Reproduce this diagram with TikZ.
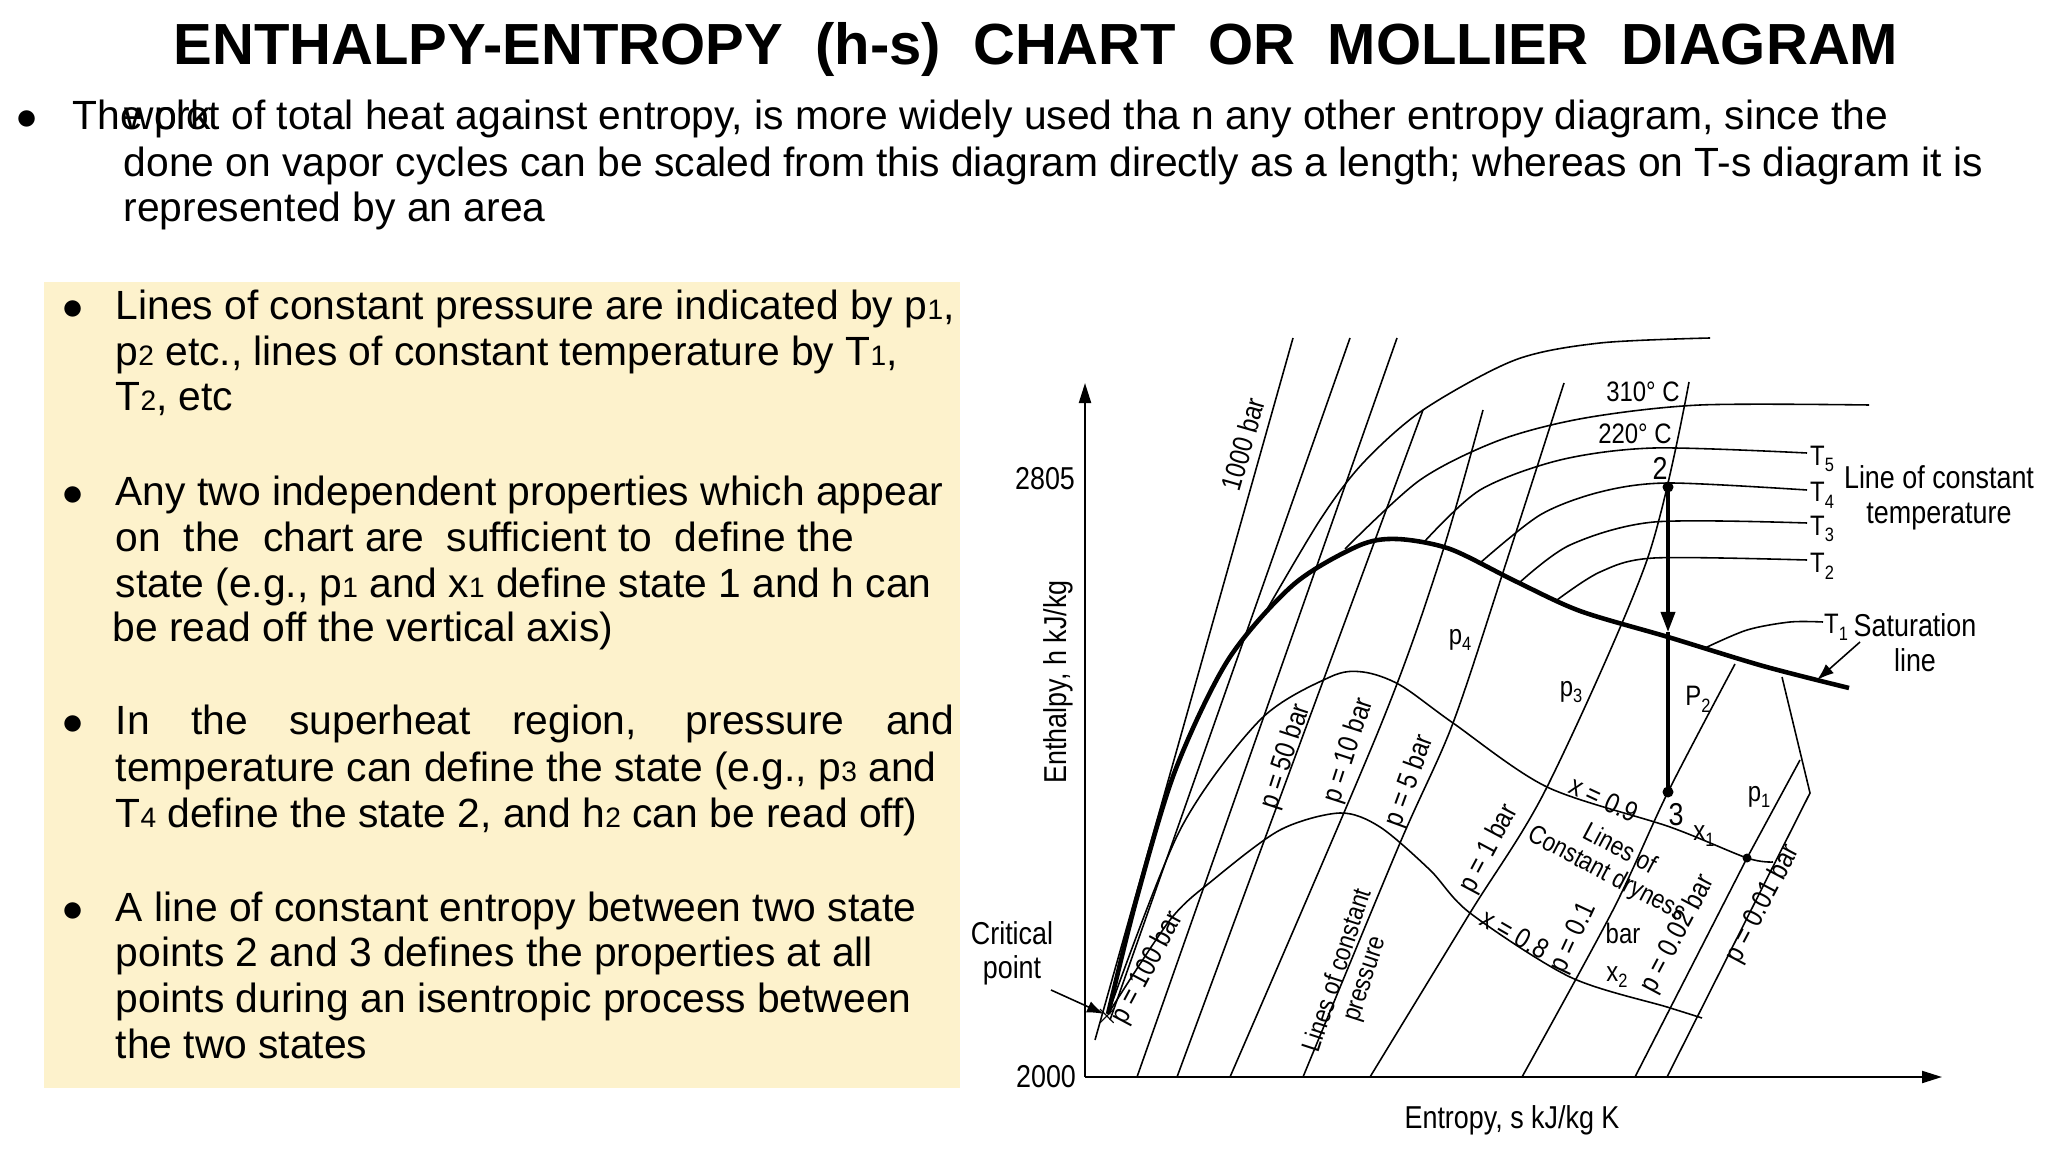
\documentclass[tikz,border=0pt]{standalone}
\usepackage{fontspec}
\setmainfont{Liberation Sans}
\newfontfamily\chartfont[FakeStretch=0.85]{Liberation Sans}
\usetikzlibrary{arrows.meta}
\definecolor{boxyellow}{RGB}{253,242,204}
\newcommand\dg[1]{{\fontsize{8pt}{8pt}\selectfont #1}}
\newcommand\sbx[1]{\raisebox{-0.45ex}{\fontsize{5.5pt}{5.5pt}\selectfont #1}}
\begin{document}
\begin{tikzpicture}[x=0.01cm,y=-0.01cm,
  body/.style={anchor=base west, inner sep=0, font=\fontsize{11.6pt}{13pt}\selectfont},
  lab/.style={inner sep=0, font=\chartfont\fontsize{8pt}{9pt}\selectfont},
  thinl/.style={line width=0.45pt},
  satl/.style={line width=1.3pt},
  procl/.style={line width=1pt},
  arr/.style={-{Latex[length=0.17cm,width=0.12cm]}}]
\useasboundingbox[fill=white] (0,0) rectangle (2048,1152);
% title
\node[inner sep=0, font=\bfseries\fontsize{16.5pt}{18pt}\selectfont] (title) at (1036,50) {ENTHALPY-ENTROPY\ \ (h-s)\ \ CHART\ \ OR\ \ MOLLIER\ \ DIAGRAM};
% intro
\node[body] (b0) at (16,130) {$\bullet$};
\node[body] (i1) at (72,130) {The plot of total heat against entropy, is more widely used tha n any other entropy diagram, since the};
\node[body] (i1w) at (124,130) {work};
\node[body] (i2) at (123,177) {done on vapor cycles can be scaled from this diagram directly as a length; whereas on T-s diagram it is};
\node[body] (i3) at (123,222) {represented by an area};
% yellow box
\fill[boxyellow] (44,282) rectangle (960,1088);
\node[body] (k1) at (62,320) {$\bullet$};
\node[body] (p1a) at (115,320) {Lines of constant pressure are indicated by p\dg1,};
\node[body] (p1b) at (115,366) {p\dg2 etc., lines of constant temperature by T\dg1,};
\node[body] (p1c) at (115,411) {T\dg2, etc};
\node[body] (k2) at (62,505) {$\bullet$};
\node[body] (p2a) at (115,505) {Any two independent properties which appear};
\node[body] (p2b) at (115,551) {on\ \ the\ \ chart are\ \ sufficient to\ \ define the};
\node[body] (p2c) at (115,597) {state (e.g., p\dg1 and x\dg1 define state 1 and h can};
\node[body] (p2d) at (112,642) {be read off the vertical axis)};
\node[body] (k3) at (62,735) {$\bullet$};
\node[body] (p3a) at (115,735) {\makebox[8.38cm][s]{In the superheat region, pressure and}};
\node[body] (p3b) at (115,781) {temperature can define the state (e.g., p\dg3 and};
\node[body] (p3c) at (115,827) {T\dg4 define the state 2, and h\dg2 can be read off)};
\node[body] (k4) at (62,921) {$\bullet$};
\node[body] (p4a) at (115,921) {A line of constant entropy between two state};
\node[body] (p4b) at (115,966) {points 2 and 3 defines the properties at all};
\node[body] (p4c) at (115,1012) {points during an isentropic process between};
\node[body] (p4d) at (115,1058) {the two states};
% axes
\coordinate (O) at (1085,1077);
\coordinate (Ytop) at (1085,383);
\coordinate (Xend) at (1942,1077);
\draw[line width=0.6pt, -{Triangle[length=0.2cm,width=0.12cm]}] (O) -- (Ytop);
\draw[line width=0.6pt, -{Triangle[length=0.2cm,width=0.12cm]}] (O) -- (Xend);
\node[lab, font=\chartfont\fontsize{9pt}{10pt}\selectfont] (y2805) at (1045,479) {2805};
\node[lab, font=\chartfont\fontsize{9pt}{10pt}\selectfont] (y2000) at (1046,1077) {2000};
\node[lab, font=\chartfont\fontsize{9pt}{10pt}\selectfont, rotate=90] (ylab) at (1058,682) {Enthalpy, h kJ/kg};
\node[lab, font=\chartfont\fontsize{9pt}{10pt}\selectfont] (xlab) at (1512,1120) {Entropy, s kJ/kg K};
% constant pressure lines
\draw[thinl] (1095,1040) -- (1293,338);
\draw[thinl] (1110,1020) -- (1350,338);
\draw[thinl] (1137,1077) -- (1397,338);
\draw[thinl] (1177,1077) -- (1423,410);
\draw[thinl] plot[smooth] coordinates {(1230,1077) (1380,727) (1440,560) (1483,410)};
\draw[thinl] plot[smooth] coordinates {(1303,1077) (1400,843) (1453,723) (1507,560) (1564,383)};
\draw[thinl] plot[smooth] coordinates {(1370,1077) (1470,913) (1547,787) (1647,560) (1689,382)};
\draw[thinl] plot[smooth] coordinates {(1522,1077) (1613,910) (1668,792) (1735,664)};
\draw[thinl] (1635,1077) -- (1747,858) -- (1800,760);
\draw[thinl] (1667,1077) -- (1810,793) -- (1782,677);
% dryness lines
\draw[thinl] plot[smooth] coordinates {(1108,1014) (1180,830) (1260,720) (1330,677) (1363,672) (1400,685) (1453,723) (1547,787) (1670,827) (1747,858) (1773,862)};
\draw[thinl] plot[smooth] coordinates {(1108,1014) (1170,920) (1213,880) (1280,830) (1340,813) (1380,827) (1430,870) (1470,913) (1570,977) (1667,1007) (1702,1018)};
% constant temperature lines
\draw[thinl] plot[smooth] coordinates {(1262,618) (1320,520) (1363,463) (1423,410) (1515,360) (1600,343) (1710,338)};
\draw[thinl] plot[smooth] coordinates {(1345,549) (1420,480) (1500,440) (1585,418) (1700,405) (1869,405)};
\draw[thinl] plot[smooth] coordinates {(1425,541) (1480,490) (1560,460) (1654,448) (1807,453)};
\draw[thinl] plot[smooth] coordinates {(1480,563) (1540,515) (1600,492) (1668,483) (1807,490)};
\draw[thinl] plot[smooth] coordinates {(1519,583) (1570,545) (1654,522) (1807,523)};
\draw[thinl] plot[smooth] coordinates {(1557,600) (1600,572) (1654,558) (1807,560)};
\draw[thinl] plot[smooth] coordinates {(1705,648) (1747,630) (1790,622) (1823,622)};
% saturation line
\draw[satl] plot[smooth] coordinates {(1108,1014) (1136,901) (1175,771) (1228,660) (1293,585) (1358,546) (1397,539) (1450,549) (1515,581) (1580,611) (1668,637) (1763,666) (1849,688)};
% process 2-3
\coordinate (s2) at (1668,487);
\coordinate (smid) at (1668,632);
\coordinate (s3) at (1668,792);
\draw[procl, -{Triangle[length=0.2cm,width=0.14cm]}] (s2) -- (smid);
\draw[procl] (smid) -- (s3);
\fill (s2) circle[radius=0.055cm];
\fill (s3) circle[radius=0.055cm];
\coordinate (sx1) at (1747,858);
\fill (sx1) circle[radius=0.045cm];
\node[lab, font=\chartfont\fontsize{9pt}{10pt}\selectfont] (n2) at (1660,468) {2};
\node[lab, font=\chartfont\fontsize{9pt}{10pt}\selectfont] (n3) at (1676,815) {3};
% critical point
\node[lab, font=\chartfont\fontsize{9pt}{10pt}\selectfont] (crit) at (1012,953) {\shortstack{Critical\\point}};
\coordinate (cp) at (1104,1014);
\draw[thinl, arr] (1051,990) -- (cp);
\node[inner sep=0, font=\fontsize{8pt}{8pt}\selectfont] (cpx) at (1107,1016) {$\times$};
% right labels
\node[lab] (T5) at (1822,459) {T\sbx5};
\node[lab] (T4) at (1822,495) {T\sbx4};
\node[lab] (T3) at (1822,529) {T\sbx3};
\node[lab] (T2) at (1822,566) {T\sbx2};
\node[lab] (T1) at (1836,627) {T\sbx1};
\node[lab, font=\chartfont\fontsize{9pt}{10pt}\selectfont, align=center] (lct) at (1939,498) {Line of constant\\temperature};
\node[lab, font=\chartfont\fontsize{9pt}{10pt}\selectfont, align=center] (satlab) at (1915,643) {Saturation\\line};
\coordinate (satp) at (1817,680);
\draw[thinl, arr] (1860,642) -- (satp);
\node[lab] (t310) at (1643,392) {310\textdegree\ C};
\node[lab] (t220) at (1635,434) {220\textdegree\ C};
% pressure labels
\node[lab, rotate=74] (l1000) at (1243,444) {1000 bar};
\node[lab, rotate=72] (l50) at (1286,757) {p = 50 bar};
\node[lab, rotate=72] (l10) at (1349,751) {p = 10 bar};
\node[lab, rotate=70] (l5) at (1410,781) {p = 5 bar};
\node[lab, rotate=62] (l100) at (1148,968) {p = 100 bar};
\node[lab, rotate=72, align=center, font=\chartfont\fontsize{7.5pt}{8pt}\selectfont] (lcp) at (1352,975) {Lines of constant\\pressure};
\node[lab, rotate=62] (l1) at (1489,849) {p = 1 bar};
\node[lab, rotate=-25] (x09) at (1604,799) {x = 0.9};
\node[lab, rotate=-28, align=center, font=\chartfont\fontsize{7.5pt}{8pt}\selectfont] (lcd) at (1613,862) {Lines of\\Constant dryness};
\node[lab, rotate=-30] (x08) at (1515,934) {x = 0.8};
\node[lab, rotate=65] (l01) at (1574,938) {p = 0.1};
\node[lab] (lbar) at (1623,933) {bar};
\node[lab] (lx2) at (1617,977) {x\sbx2};
\node[lab] (lx1) at (1704,836) {x\sbx1};
\node[lab, rotate=62] (l002) at (1678,934) {p = 0.02 bar};
\node[lab, rotate=62] (l001) at (1763,904) {p = 0.01 bar};
\node[lab] (lp1) at (1759,797) {p\sbx1};
\node[lab] (lP2) at (1698,699) {P\sbx2};
\node[lab] (lp3) at (1571,692) {p\sbx3};
\node[lab] (lp4) at (1460,640) {p\sbx4};
\end{tikzpicture}
\end{document}
